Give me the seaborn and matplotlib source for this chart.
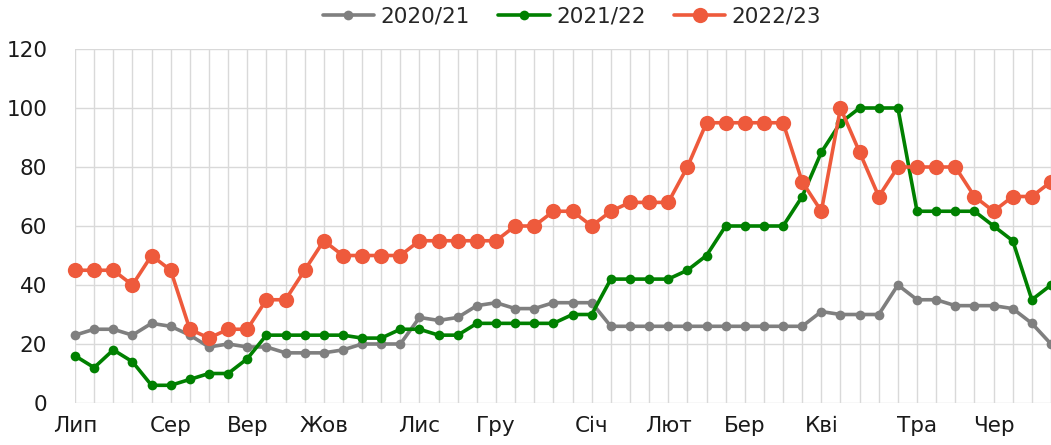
import numpy as np
import pandas as pd
import seaborn as sns
import matplotlib.pyplot as plt

weeks = list(range(52))
month_pos = [0, 5, 9, 13, 18, 22, 27, 31, 35, 39, 44, 48]
month_labels = ["Лип", "Сер", "Вер", "Жов", "Лис", "Гру", "Січ", "Лют", "Бер", "Кві", "Тра", "Чер"]

s2021 = [23, 25, 25, 23, 27, 26, 23, 19, 20, 19, 19, 17, 17, 17, 18, 20, 20, 20,
         29, 28, 29, 33, 34, 32, 32, 34, 34, 34, 26, 26, 26, 26, 26, 26, 26, 26,
         26, 26, 26, 31, 30, 30, 30, 40, 35, 35, 33, 33, 33, 32, 27, 20]
s2122 = [16, 12, 18, 14, 6, 6, 8, 10, 10, 15, 23, 23, 23, 23, 23, 22, 22, 25,
         25, 23, 23, 27, 27, 27, 27, 27, 30, 30, 42, 42, 42, 42, 45, 50, 60, 60,
         60, 60, 70, 85, 95, 100, 100, 100, 65, 65, 65, 65, 60, 55, 35, 40]
s2223 = [45, 45, 45, 40, 50, 45, 25, 22, 25, 25, 35, 35, 45, 55, 50, 50, 50, 50,
         55, 55, 55, 55, 55, 60, 60, 65, 65, 60, 65, 68, 68, 68, 80, 95, 95, 95,
         95, 95, 75, 65, 100, 85, 70, 80, 80, 80, 80, 70, 65, 70, 70, 75]

series = [("2020/21", s2021, "#7f7f7f", 7),
          ("2021/22", s2122, "#008000", 7),
          ("2022/23", s2223, "#ee5a3c", 11)]

sns.set_style("white")
plt.rcParams["font.family"] = ["DejaVu Sans"]

fig = plt.figure(figsize=(10.51, 4.45), dpi=100)
ax = fig.add_axes([75 / 1051, 42 / 445, 976 / 1051, 354 / 445])

for name, vals, col, ms in series:
    df = pd.DataFrame({"week": weeks, "value": vals})
    sns.lineplot(data=df, x="week", y="value", ax=ax, color=col, linewidth=2.6,
                 marker="o", markersize=ms, markeredgewidth=0, label=name,
                 clip_on=False, zorder=3)

ax.set_xlim(0, 51)
ax.set_ylim(0, 120)
ax.set_yticks(range(0, 121, 20))
ax.set_xticks(weeks, minor=True)
ax.set_xticks(month_pos)
ax.set_xticklabels(month_labels)
ax.grid(True, which="both", axis="x", color="#d9d9d9", linewidth=1)
ax.grid(True, which="major", axis="y", color="#d9d9d9", linewidth=1)
ax.set_axisbelow(True)
for s in ax.spines.values():
    s.set_visible(False)
ax.tick_params(axis="both", which="both", length=0, labelsize=15.5, colors="#1a1a1a")
ax.tick_params(axis="y", pad=20)
ax.tick_params(axis="x", pad=9)
ax.set_xlabel("")
ax.set_ylabel("")

ax.legend(loc="center", bbox_to_anchor=(572 / 1051, 1 - 17 / 445),
          bbox_transform=fig.transFigure, ncol=3, frameon=False, fontsize=15.5,
          handlelength=2.4, columnspacing=1.3, handletextpad=0.3)

fig.savefig("out.png", dpi=100)
